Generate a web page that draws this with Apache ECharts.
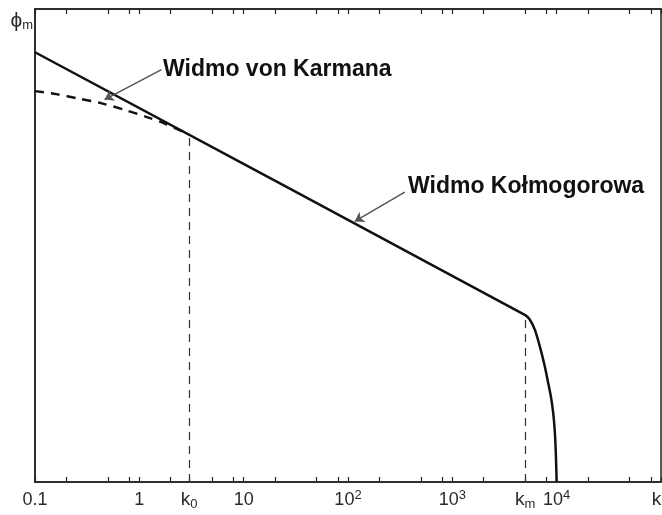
<!DOCTYPE html>
<html>
<head>
<meta charset="utf-8">
<script src="https://cdn.jsdelivr.net/npm/echarts@6/dist/echarts.min.js"></script>
<style>
  html, body { margin: 0; padding: 0; background: #fff; }
  #chart { width: 662px; height: 515px; }
</style>
</head>
<body>
<div id="chart"></div>
<script>
// Characteristic wavenumbers
const K0 = 3.0;    // outer-scale wavenumber
const KM = 5000;   // inner-scale (dissipation) wavenumber

// Kolmogorov spectrum: inertial range, then dissipation cut-off
const kolmoK   = [0.1, 5000, 5540, 6185, 6905, 7710, 8300, 8810, 9270, 9620, 9840, 10000];
const kolmoPhi = [1.46e3, 8.7e-15, 4.3e-15, 9.3e-16, 7.4e-17, 3.6e-18, 3.0e-19, 3.9e-20, 3.3e-21, 1.6e-22, 4.6e-24, 1e-25];

// von Karman spectrum: flattening below k0
const karmanK   = [0.1, 0.16, 0.26, 0.43, 0.74, 1.2, 1.75, 2.4, 3.0];
const karmanPhi = [4.17, 2.63, 1.35, 0.676, 0.234, 0.0794, 0.0309, 0.0117, 0.0056];

// Vertical guide lines at k0 and km (bottom to curve)
const guideK   = [K0, KM];
const guideTop = [4.6e-3, 8.7e-15];

// Axis extents
const xMin = 0.1, xMax = 1e5;
const yMin = 1e-25, yMax = 1e6;

// Tick marks (1, 2, 5, 8 per decade) and labelled positions
const tickValues = [0.1, 0.2, 0.5, 0.8, 1, 2, K0, 5, 8, 10, 20, 50, 80, 100, 200, 500, 800,
                    1000, 2000, 5000, 8000, 1e4, 2e4, 5e4, 8e4, 1e5];
const topTickValues = [0.1, 0.2, 0.5, 0.8, 1, 2, 5, 8, 10, 20, 50, 80, 100, 200, 500, 800,
                       1000, 2000, 5000, 8000, 1e4, 2e4, 5e4, 8e4, 1e5];
const labelValues = [0.1, 1, K0, 10, 100, 1000, KM, 1e4, 1e5];
const labelTexts  = ['0.1', '1', '{k|k}{sub|0}', '10', '10{sup|2}', '10{sup|3}', '{k|k}{sub|m}', '10{sup|4}', '{end|k}'];

// Annotation arrows: [tail k, tail phi, tip k, tip phi]
const karmanArrow = [1.63, 107, 0.464, 1.15];
const kolmoArrow  = [350, 1e-6, 116, 1.2e-8];

const zip = (xs, ys) => xs.map((x, i) => [x, ys[i]]);
const labelFor = v => {
  for (let i = 0; i < labelValues.length; i++) {
    if (Math.abs(Math.log10(v) - Math.log10(labelValues[i])) < 1e-6) return labelTexts[i];
  }
  return '';
};

const chart = echarts.init(document.getElementById('chart'), null, { renderer: 'canvas' });

const axisColor = '#222';
const textColor = '#2a2a2a';
const fontFam = '"Liberation Sans", Arial, sans-serif';

chart.setOption({
  animation: false,
  backgroundColor: '#fff',
  grid: {
    left: 35, right: 1, top: 9, bottom: 33,
    outerBoundsMode: 'none', containLabel: false,
    show: true, borderColor: axisColor, borderWidth: 1.5
  },
  xAxis: [
    {
      type: 'log', logBase: 10, min: xMin, max: xMax, position: 'bottom',
      axisLine: { show: true, lineStyle: { color: axisColor, width: 1.5 } },
      axisTick: { show: true, inside: true, length: 5, customValues: tickValues, lineStyle: { color: axisColor, width: 1.2 } },
      axisLabel: {
        show: true, customValues: labelValues, formatter: labelFor, margin: 7,
        color: textColor, fontSize: 18, fontFamily: fontFam, lineHeight: 22,
        rich: {
          k:   { fontSize: 19, fontFamily: fontFam, color: textColor },
          end: { fontSize: 19, fontFamily: fontFam, color: textColor, padding: [0, 9, 0, 0] },
          sub: { fontSize: 13, fontFamily: fontFam, color: textColor, verticalAlign: 'bottom', lineHeight: 12 },
          sup: { fontSize: 13, fontFamily: fontFam, color: textColor, verticalAlign: 'top', lineHeight: 12 }
        }
      },
      splitLine: { show: false }
    },
    {
      type: 'log', logBase: 10, min: xMin, max: xMax, position: 'top',
      axisLine: { show: true, lineStyle: { color: axisColor, width: 1.5 } },
      axisTick: { show: true, inside: true, length: 5, customValues: topTickValues, lineStyle: { color: axisColor, width: 1.2 } },
      axisLabel: { show: false },
      splitLine: { show: false }
    }
  ],
  yAxis: {
    type: 'log', logBase: 10, min: yMin, max: yMax,
    axisLine: { show: true, lineStyle: { color: axisColor, width: 1.5 } },
    axisTick: { show: false },
    axisLabel: { show: false },
    splitLine: { show: false },
    name: '{p|ϕ}{m|m}',
    nameLocation: 'end',
    nameGap: -2,
    nameTextStyle: {
      align: 'right', verticalAlign: 'top', padding: [0, 2, 0, 0],
      rich: {
        p: { fontSize: 21, fontFamily: fontFam, color: textColor },
        m: { fontSize: 13, fontFamily: fontFam, color: textColor, verticalAlign: 'bottom' }
      }
    }
  },
  series: [
    {
      name: 'guides', type: 'line', xAxisIndex: 0,
      data: [], symbol: 'none', silent: true,
      markLine: {
        silent: true, symbol: ['none', 'none'], label: { show: false },
        lineStyle: { type: [8, 6], color: '#333', width: 1.2 },
        data: guideK.map((k, i) => [{ coord: [k, yMin] }, { coord: [k, guideTop[i]] }])
      }
    },
    {
      name: 'Widmo von Karmana', type: 'line', xAxisIndex: 0,
      data: zip(karmanK, karmanPhi), smooth: 0.3, symbol: 'none', z: 3,
      lineStyle: { color: '#111', width: 2.4, type: [9, 7] }
    },
    {
      name: 'Widmo Kołmogorowa', type: 'line', xAxisIndex: 0,
      data: zip(kolmoK, kolmoPhi), smooth: 0.2, symbol: 'none', z: 4,
      lineStyle: { color: '#111', width: 2.5 },
      markLine: {
        silent: true, symbol: ['none', 'arrow'], symbolSize: 9, label: { show: false },
        lineStyle: { type: 'solid', color: '#555', width: 1.5 },
        data: [
          [{ coord: [karmanArrow[0], karmanArrow[1]] }, { coord: [karmanArrow[2], karmanArrow[3]] }],
          [{ coord: [kolmoArrow[0], kolmoArrow[1]] }, { coord: [kolmoArrow[2], kolmoArrow[3]] }]
        ]
      }
    }
  ],
  graphic: [
    { type: 'text', x: 163, y: 70, style: { text: 'Widmo von Karmana', font: 'bold 23px "Liberation Sans", Arial, sans-serif', fill: '#111', align: 'left', verticalAlign: 'middle' } },
    { type: 'text', x: 408, y: 187, style: { text: 'Widmo Kołmogorowa', font: 'bold 23px "Liberation Sans", Arial, sans-serif', fill: '#111', align: 'left', verticalAlign: 'middle' } }
  ]
});
</script>
</body>
</html>
